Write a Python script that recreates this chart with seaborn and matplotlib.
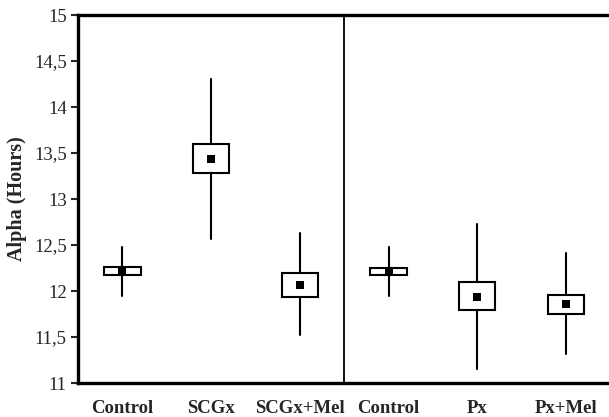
import matplotlib
matplotlib.use("Agg")
import matplotlib.pyplot as plt
import seaborn as sns
import pandas as pd
from matplotlib.ticker import FuncFormatter

sns.set_theme(style="white")
plt.rcParams['font.family'] = ['Liberation Serif', 'DejaVu Serif']

categories = ["Control", "SCGx", "SCGx+Mel", "Control", "Px", "Px+Mel"]
means = [12.21, 13.44, 12.07, 12.21, 11.94, 11.86]
box_low = [12.17, 13.28, 11.94, 12.17, 11.79, 11.75]
box_high = [12.26, 13.60, 12.20, 12.25, 12.095, 11.96]
whisk_low = [11.95, 12.57, 11.52, 11.95, 11.15, 11.32]
whisk_high = [12.48, 14.30, 12.63, 12.475, 12.73, 12.41]

positions = list(range(len(categories)))

fig = plt.figure(figsize=(6.09, 4.17), dpi=100)
ax = fig.add_axes([78/609, 1 - 383/417, 1 - 78/609, 368/417])

stats = []
for i in positions:
    stats.append(dict(med=means[i], q1=box_low[i], q3=box_high[i],
                      whislo=whisk_low[i], whishi=whisk_high[i], fliers=[]))

ax.bxp(stats, positions=positions, widths=0.41, showcaps=False, showfliers=False,
       patch_artist=True,
       boxprops=dict(facecolor="white", edgecolor="black", linewidth=1.5),
       whiskerprops=dict(color="black", linewidth=1.5),
       medianprops=dict(linewidth=0))

df = pd.DataFrame({"pos": positions, "mean": means})
sns.scatterplot(data=df, x="pos", y="mean", marker="s", s=36, color="black",
                edgecolor="black", linewidth=0, ax=ax, zorder=5)

ax.axvline(2.5, color="black", linewidth=1.3)

ax.set_xlim(-0.5, 5.485)
ax.set_ylim(11, 15)
ax.set_yticks([11, 11.5, 12, 12.5, 13, 13.5, 14, 14.5, 15])
ax.yaxis.set_major_formatter(FuncFormatter(lambda v, p: (f"{v:g}").replace(".", ",")))
ax.set_xticks(positions)
ax.set_xticklabels(categories, fontweight="bold", fontsize=13.5)
ax.tick_params(axis="x", length=0, pad=12)
ax.tick_params(axis="y", direction="out", length=5, width=1.5, labelsize=13.5, pad=3, left=True)
ax.set_xlabel("")
ax.set_ylabel("Alpha (Hours)", fontweight="bold", fontsize=14.5, labelpad=5)

for s in ["left", "bottom", "top"]:
    ax.spines[s].set_linewidth(2.4)
    ax.spines[s].set_color("black")
ax.spines["right"].set_visible(False)

fig.savefig("out.png", dpi=100)
